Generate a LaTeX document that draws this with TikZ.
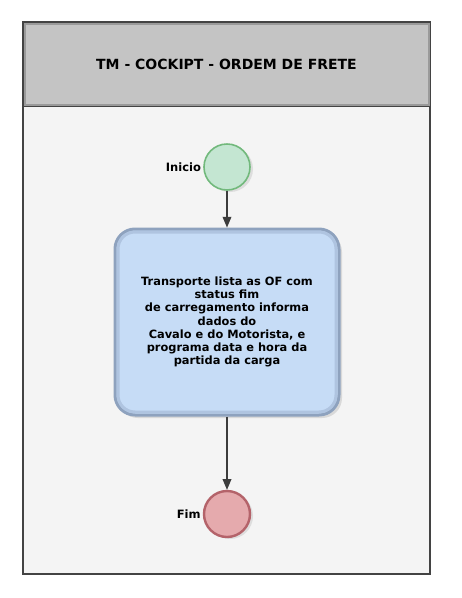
\documentclass[tikz,border=0pt]{standalone}
\usepackage{fontspec}
\setmainfont{DejaVu Sans}
\usetikzlibrary{shapes.geometric, arrows, positioning, shadows}

\definecolor{framegray}{HTML}{434343}
\definecolor{headgray}{HTML}{C4C4C4}
\definecolor{headedge}{HTML}{9A9A9A}
\definecolor{lanegray}{HTML}{F4F4F4}
\definecolor{startfill}{HTML}{C4E6D2}
\definecolor{startedge}{HTML}{72B97C}
\definecolor{endfill}{HTML}{E5AAAD}
\definecolor{endedge}{HTML}{B4636A}
\definecolor{taskfill}{HTML}{C6DCF6}
\definecolor{taskedge}{HTML}{8EA2BE}
\definecolor{taskmid}{HTML}{AFC4E0}
\definecolor{arrowgray}{HTML}{3C3C3C}

\begin{document}
\begin{tikzpicture}[
    x=1pt, y=-1pt,
    header/.style={rectangle, draw=headedge, fill=headgray, line width=2pt, minimum width=404pt, minimum height=81pt, align=center, font=\bfseries\fontsize{14}{16}\selectfont},
    lane/.style={rectangle, draw=framegray, fill=lanegray, line width=2pt, minimum width=407pt, minimum height=468pt},
    startev/.style={circle, draw=startedge, fill=startfill, line width=1.6pt, minimum size=46pt, inner sep=0pt, drop shadow={shadow xshift=3pt, shadow yshift=-2pt, fill=black!22}},
    endev/.style={circle, draw=endedge, fill=endfill, line width=2.4pt, minimum size=46pt, inner sep=0pt, drop shadow={shadow xshift=3pt, shadow yshift=-2pt, fill=black!22}},
    task/.style={rectangle, rounded corners=20pt, draw=taskedge, fill=taskfill, line width=3pt, minimum width=224pt, minimum height=186pt, align=center, font=\bfseries\fontsize{11.4}{13.2}\selectfont, drop shadow={shadow xshift=3pt, shadow yshift=-3pt, fill=black!25}},
    taskinner/.style={rectangle, rounded corners=17pt, draw=taskmid, line width=3pt, minimum width=218pt, minimum height=180pt},
    evlabel/.style={font=\bfseries\fontsize{11.5}{13}\selectfont, inner sep=1pt},
    arrow/.style={line width=1.5pt, ->, >=triangle 45, draw=arrowgray}
]

\useasboundingbox (0,0) rectangle (462,598);

% Pool
\node[lane] (lane) at (226.5,340) {};
\draw[framegray, line width=2pt] (23,22) rectangle (430,106);
\node[header] (title) at (226.5,64) {TM - COCKIPT - ORDEM DE FRETE};

% Nodes
\node[startev] (inicio) at (227,167) {};
\node[evlabel, left=1pt of inicio] {Inicio};
\node[task] (tarefa) at (227,322) {};
\node[taskinner] (tarefaborda) at (tarefa.center) {};
\node[align=center, font=\bfseries\fontsize{11.4}{13.2}\selectfont] (tarefatexto) at (tarefa.center) {Transporte lista as OF com\\status fim\\de carregamento informa\\dados do\\Cavalo e do Motorista, e\\programa data e hora da\\partida da carga};
\node[endev] (fim) at (227,514) {};
\node[evlabel, left=1pt of fim] {Fim};

% Edges
\draw[arrow] (inicio) -- (tarefa);
\draw[arrow] (tarefa) -- (fim);

\end{tikzpicture}
\end{document}
